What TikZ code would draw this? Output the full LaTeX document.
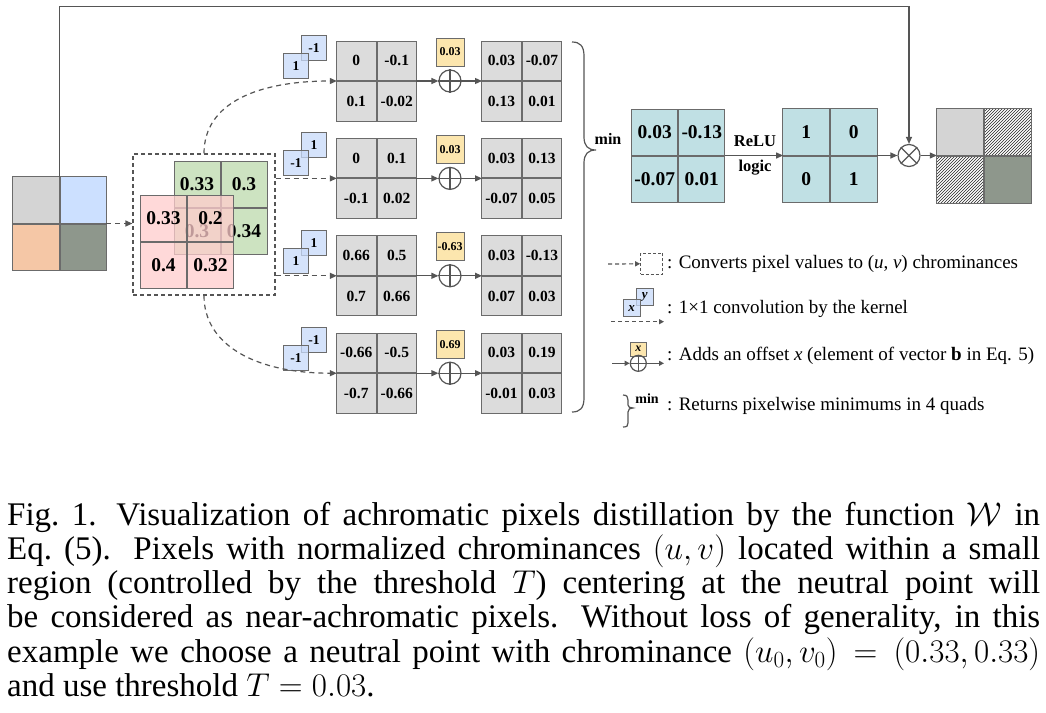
\RequirePackage{fix-cm}
\documentclass[tikz,border=0pt]{standalone}
\usepackage{fontspec}
\setmainfont{Liberation Serif}
\usetikzlibrary{arrows.meta,patterns}
\definecolor{lc}{HTML}{555555}
\definecolor{cb}{HTML}{6B6B6B}
\definecolor{gr}{HTML}{DCDCDC}
\definecolor{tealc}{HTML}{C0E0E4}
\definecolor{kblue}{HTML}{C8DAFA}
\definecolor{ylw}{HTML}{FCE6AE}
\definecolor{pinkc}{HTML}{FFCDCD}
\definecolor{greenc}{HTML}{CDE3C1}
\definecolor{inblue}{HTML}{CCE0FF}
\definecolor{peach}{HTML}{F5C7A6}
\definecolor{ltgray}{HTML}{D4D4D4}
\definecolor{dkgreen}{HTML}{8E978C}
\newcommand\quadgrid[8]{%
  \node[minimum size={2*#3pt}, inner sep=0pt] (#1) at #2 {};
  \node[#4, minimum size=#3pt, anchor=south east] (#1-1) at (#1.center) {#5};
  \node[#4, minimum size=#3pt, anchor=south west] (#1-2) at (#1.center) {#6};
  \node[#4, minimum size=#3pt, anchor=north east] (#1-3) at (#1.center) {#7};
  \node[#4, minimum size=#3pt, anchor=north west] (#1-4) at (#1.center) {#8};
}
\newcommand\rowparts[5]{%
  \node[kern] (kb#1) at (314,#2-33) {#4};
  \node[kern] (kf#1) at (296,#2-15) {#3};
  \node[biasbox] (bb#1) at (450,#2-29) {#5};
  \node[opc] (op#1) at (450,#2) {};
  \draw[ln] (op#1.north) -- (op#1.south) (op#1.west) -- (op#1.east);
  \draw[arr] (ga#1.east) -- (op#1.west);
  \draw[arr] (op#1.east) -- (gb#1.west);
}
\begin{document}
\begin{tikzpicture}[x=1pt,y=-1pt,
  ln/.style={draw=lc, line width=1.2pt},
  arr/.style={ln, -{Triangle[length=7pt,width=6pt]}},
  dasharr/.style={arr, dash pattern=on 5pt off 4pt},
  cellbase/.style={draw=cb, line width=1pt, inner sep=0pt},
  graycell/.style={cellbase, fill=gr, font=\fontsize{15.5}{17}\selectfont\bfseries},
  tealcell/.style={cellbase, fill=tealc, font=\fontsize{19.5}{21}\selectfont\bfseries},
  greencell/.style={cellbase, fill=greenc, font=\fontsize{19.5}{21}\selectfont\bfseries},
  pinkcell/.style={cellbase, fill=pinkc, fill opacity=0.75, text opacity=1, font=\fontsize{19.5}{21}\selectfont\bfseries},
  kern/.style={cellbase, fill=kblue, fill opacity=0.75, text opacity=1, minimum size=25pt, font=\fontsize{13.5}{15}\selectfont\bfseries},
  biasbox/.style={cellbase, fill=ylw, minimum size=28pt, font=\fontsize{12}{14}\selectfont\bfseries},
  opc/.style={circle, ln, minimum size=22pt, inner sep=0pt},
  lab/.style={inner sep=0pt, font=\fontsize{16.5}{18}\selectfont\bfseries},
  legtext/.style={anchor=west, inner sep=0pt, font=\fontsize{19}{22}\selectfont},
  hatch/.style={cellbase, pattern=north east lines, pattern color=black!85}
]
\fill[white] (0,0) rectangle (1046,712);
\useasboundingbox (0,0) rectangle (1046,712);

% input image
\node[minimum size=93pt, inner sep=0pt] (in) at (59.5,223.5) {};
\node[cellbase, fill=ltgray, minimum size=46.5pt, anchor=south east] (in-1) at (in.center) {};
\node[cellbase, fill=inblue, minimum size=46.5pt, anchor=south west] (in-2) at (in.center) {};
\node[cellbase, fill=peach, minimum size=46.5pt, anchor=north east] (in-3) at (in.center) {};
\node[cellbase, fill=dkgreen, minimum size=46.5pt, anchor=north west] (in-4) at (in.center) {};

% uv box
\node[draw=lc, line width=1.2pt, dash pattern=on 4pt off 3pt, minimum width=142pt, minimum height=141pt, inner sep=0pt] (uv) at (204,224.5) {};
\quadgrid{gu}{(220.5,208)}{46}{greencell}{0.33}{0.3}{0.3}{0.34}
\quadgrid{pu}{(187,241.5)}{46}{pinkcell}{0.33}{0.2}{0.4}{0.32}
\draw[dasharr] (in.east) -- (in.east -| uv.west);

% rows
\quadgrid{ga1}{(376.5,81)}{39.5}{graycell}{0}{-0.1}{0.1}{-0.02}
\quadgrid{gb1}{(521.7,81)}{39.5}{graycell}{0.03}{-0.07}{0.13}{0.01}
\rowparts{1}{81}{1}{-1}{0.03}
\quadgrid{ga2}{(376.5,178.4)}{39.5}{graycell}{0}{0.1}{-0.1}{0.02}
\quadgrid{gb2}{(521.7,178.4)}{39.5}{graycell}{0.03}{0.13}{-0.07}{0.05}
\rowparts{2}{178.4}{-1}{1}{0.03}
\quadgrid{ga3}{(376.5,275.8)}{39.5}{graycell}{0.66}{0.5}{0.7}{0.66}
\quadgrid{gb3}{(521.7,275.8)}{39.5}{graycell}{0.03}{-0.13}{0.07}{0.03}
\rowparts{3}{275.8}{1}{1}{-0.63}
\quadgrid{ga4}{(376.5,373.2)}{39.5}{graycell}{-0.66}{-0.5}{-0.7}{-0.66}
\quadgrid{gb4}{(521.7,373.2)}{39.5}{graycell}{0.03}{0.19}{-0.01}{0.03}
\rowparts{4}{373.2}{-1}{-1}{0.69}

\draw[dasharr] (uv.north) .. controls ([yshift=50pt]uv.north) and ([xshift=-80pt]ga1.west) .. (ga1.west);
\draw[dasharr] (uv.south) .. controls ([yshift=-50pt]uv.south) and ([xshift=-80pt]ga4.west) .. (ga4.west);
\draw[dasharr] (uv.east |- ga2.west) -- (ga2.west);
\draw[dasharr] (uv.east |- ga3.west) -- (ga3.west);

% brace
\draw[ln] (572,42) .. controls (580,42) and (584,46) .. (584,56) -- (584,137) .. controls (584,146) and (588,150) .. (596,150) .. controls (588,150) and (584,154) .. (584,163) -- (584,398) .. controls (584,408) and (580,412) .. (572,412);
\node[lab, font=\fontsize{16}{18}\selectfont\bfseries] (minl) at (608,139) {min};

% right part
\quadgrid{t1}{(678.3,155.5)}{46}{tealcell}{0.03}{-0.13}{-0.07}{0.01}
\quadgrid{t2}{(830,155.5)}{46.7}{tealcell}{1}{0}{0}{1}
\draw[arr] (t1.east) -- (t2.west);
\node[lab] (relu) at (755,141) {ReLU};
\node[lab] (logic) at (755,168) {logic};
\node[opc] (ot) at (909,155.5) {};
\draw[ln] (ot.north east) -- (ot.south west) (ot.north west) -- (ot.south east);
\node[minimum size=94pt, inner sep=0pt] (out) at (984,155.5) {};
\node[cellbase, fill=ltgray, minimum size=47pt, anchor=south east] (out-1) at (out.center) {};
\node[hatch, minimum size=47pt, anchor=south west] (out-2) at (out.center) {};
\node[hatch, minimum size=47pt, anchor=north east] (out-3) at (out.center) {};
\node[cellbase, fill=dkgreen, minimum size=47pt, anchor=north west] (out-4) at (out.center) {};
\draw[arr] (t2.east) -- (ot.west);
\draw[arr] (ot.east) -- (out.west);
\draw[arr] (in.north) -- ++(0,-170) -| (ot.north);

% legend
\coordinate (l1s) at (608,264);
\node[draw=lc, line width=1.1pt, dash pattern=on 3pt off 2pt, minimum width=22pt, minimum height=21pt, inner sep=0pt] (l1b) at (651.7,263.8) {};
\draw[arr, dash pattern=on 4pt off 3pt, -{Triangle[length=5pt,width=5pt]}] (l1s) -- (l1b.west);
\node[legtext] (l1t) at (667,264) {: Converts pixel values to (\textit{u}, \textit{v}) chrominances};

\node[cellbase, fill=kblue, fill opacity=0.75, text opacity=1, minimum size=17pt, font=\fontsize{13}{14}\selectfont\bfseries\itshape] (l2y) at (644.7,297) {y};
\node[cellbase, fill=kblue, fill opacity=0.75, text opacity=1, minimum size=17pt, font=\fontsize{13}{14}\selectfont\bfseries\itshape] (l2x) at (631.7,308.3) {x};
\coordinate (l2s) at (611,321.7);
\coordinate (l2e) at (664,321.7);
\draw[arr, dash pattern=on 4pt off 3pt, -{Triangle[length=5pt,width=5pt]}] (l2s) -- (l2e);
\node[legtext] (l2t) at (667,309) {: 1×1 convolution by the kernel};

\node[cellbase, fill=ylw, minimum width=16pt, minimum height=14pt, font=\fontsize{12}{13}\selectfont\bfseries\itshape] (l3x) at (638.3,349) {x};
\node[circle, ln, minimum size=16pt, inner sep=0pt] (l3p) at (638.3,363.3) {};
\draw[ln] (l3p.north) -- (l3p.south) (l3p.west) -- (l3p.east);
\coordinate (l3s) at (612,363.3);
\coordinate (l3e) at (664,363.3);
\draw[arr, -{Triangle[length=5pt,width=5pt]}] (l3s) -- (l3p.west);
\draw[arr, -{Triangle[length=5pt,width=5pt]}] (l3p.east) -- (l3e);
\node[legtext] (l3t) at (667,356) {: Adds an offset \textit{x} (element of vector \textbf{b} in Eq. 5)};

\draw[ln] (623,395) .. controls (627,395) and (628,397) .. (628,400) -- (628,405) .. controls (628,407) and (630,408) .. (633,408) .. controls (630,408) and (628,409) .. (628,412) -- (628,423) .. controls (628,426) and (627,427) .. (623,427);
\node[inner sep=0pt, font=\fontsize{14}{16}\selectfont\bfseries] (l4m) at (647,399) {min};
\node[legtext] (l4t) at (667,406) {: Returns pixelwise minimums in 4 quads};

% caption
\node[anchor=base west, inner sep=0pt] (cap) at (7,525) {\parbox[t]{1033pt}{\fontsize{33}{34.3}\selectfont Fig.\ 1.\hspace{0.6em}Visualization of achromatic pixels distillation by the function $\mathcal{W}$ in\linebreak Eq.\ (5). Pixels with normalized chrominances $(u,v)$ located within a small\linebreak region (controlled by the threshold $T$) centering at the neutral point will\linebreak be considered as near-achromatic pixels. Without loss of generality, in this\linebreak example we choose a neutral point with chrominance $(u_0,v_0)=(0.33,0.33)$\linebreak and use threshold $T=0.03$.}};
\end{tikzpicture}
\end{document}
